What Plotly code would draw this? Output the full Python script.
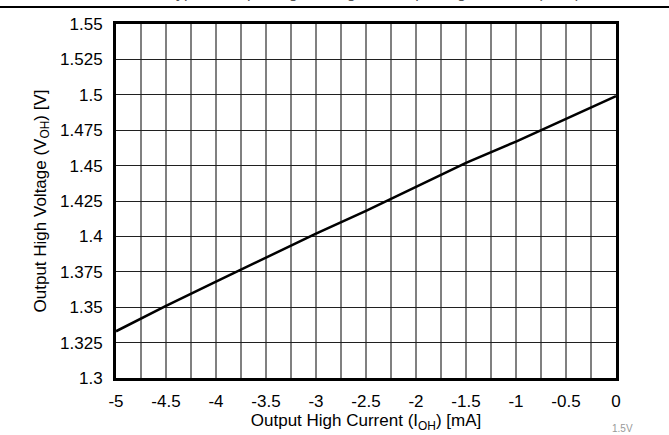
import plotly.graph_objects as go

current_ma = [-5, -4.5, -4, -3.5, -3, -2.5, -2, -1.5, -1, -0.5, 0]
voltage_v = [1.333, 1.351, 1.368, 1.385, 1.402, 1.418, 1.435, 1.452, 1.467, 1.483, 1.499]

x_grid = [-5 + 0.25 * i for i in range(21)]
x_labels = ["-5", "-4.5", "-4", "-3.5", "-3", "-2.5", "-2", "-1.5", "-1", "-0.5", "0"]
y_ticks = [1.3, 1.325, 1.35, 1.375, 1.4, 1.425, 1.45, 1.475, 1.5, 1.525, 1.55]
y_labels = ["1.3", "1.325", "1.35", "1.375", "1.4", "1.425", "1.45", "1.475", "1.5", "1.525", "1.55"]

W, H = 669, 435
L, R, T, B = 116, 53, 24, 57
pw, ph = W - L - R, H - T - B

x_text = [x_labels[i // 2] if i % 2 == 0 else "" for i in range(21)]

fig = go.Figure()
fig.add_trace(go.Scatter(x=current_ma, y=voltage_v, mode="lines",
                         line=dict(color="black", width=2.5), showlegend=False))

FAM = "Liberation Sans, Arial, sans-serif"
font = dict(family=FAM, size=17, color="black")
fig.update_layout(
    width=W, height=H, margin=dict(l=L, r=R, t=T, b=B, autoexpand=False),
    paper_bgcolor="white", plot_bgcolor="white", font=font,
    xaxis=dict(range=[-5, 0], tickvals=x_grid, ticktext=x_text, showgrid=True,
               gridcolor="#808080", gridwidth=1.8, showline=True, linecolor="black",
               linewidth=3, mirror=True, ticks="", zeroline=False,
               ticklabelstandoff=6,
               title=dict(text="Output High Current (I<sub>OH</sub>) [mA]", standoff=2,
                          font=font)),
    yaxis=dict(range=[1.3, 1.55], tickvals=y_ticks, ticktext=y_labels, showgrid=True,
               gridcolor="#202020", gridwidth=1.2, showline=True, linecolor="black",
               linewidth=3, mirror=True, ticks="", zeroline=False,
               ticklabelstandoff=7,
               title=dict(text="Output High Voltage (V<sub>OH</sub>) [V]", standoff=10,
                          font=font)),
)

# top rule line across the page
fig.add_shape(type="line", xref="paper", yref="paper",
              x0=-L / pw, x1=(W - L) / pw, y0=(H - B - 7) / ph, y1=(H - B - 7) / ph,
              line=dict(color="black", width=2))

# clipped page title (only descenders visible)
fig.add_annotation(text="Typical Output High Voltage vs Output High Current (1.5V)",
                   xref="paper", yref="paper", x=(165 - L) / pw, y=(H - B - 3) / ph,
                   xanchor="left", yanchor="bottom", showarrow=False,
                   font=dict(family=FAM, size=16, color="#555555"))

fig.add_annotation(text="1.5V", xref="paper", yref="paper",
                   x=(622 - L) / pw, y=-(428 - (H - B)) / ph, xanchor="center", yanchor="middle",
                   showarrow=False,
                   font=dict(family=FAM, size=10, color="#999999"))

fig.write_html("out.html", config={"displayModeBar": False},
               post_script="document.body.style.margin='0';document.body.style.padding='0';")
